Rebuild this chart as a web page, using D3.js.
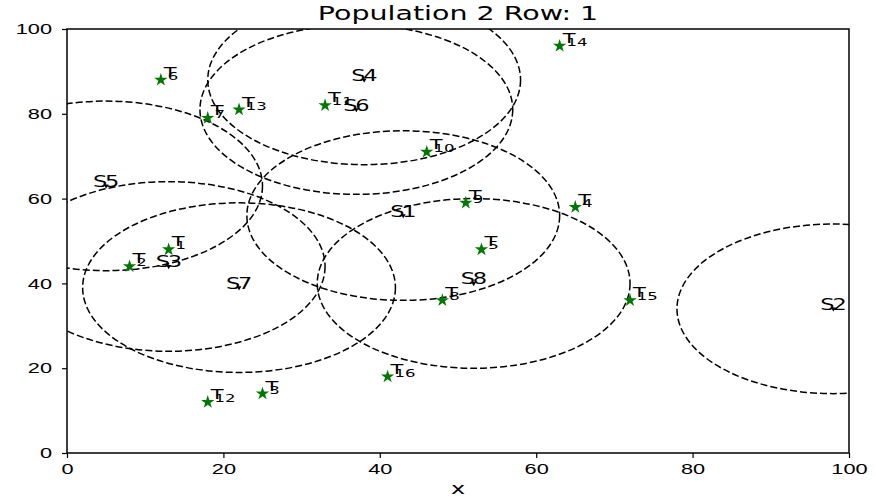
<!DOCTYPE html>
<html>
<head>
<meta charset="utf-8">
<script src="https://cdn.jsdelivr.net/npm/d3@7"></script>
<style>
    body { margin: 0; background: #fff; }
    svg { font-family: 'DejaVu Sans', sans-serif; }
    .tick text { font-size: 14.5px; fill: #000; }
    .tick line { stroke: #000; stroke-width: 1.2; }
</style>
</head>
<body>
<svg id="chart"></svg>
<script>
// target points (green stars)
const targetNames = ['1', '2', '3', '4', '5', '6', '7', '8', '9', '10', '11', '12', '13', '14', '15', '16'];
const targetX = [13, 8, 25, 65, 53, 12, 18, 48, 51, 46, 33, 18, 22, 63, 72, 41];
const targetY = [48, 44, 14, 58, 48, 88, 79, 36, 59, 71, 82, 12, 81, 96, 36, 18];

// stations and their coverage radius
const stationNames = ['1', '2', '3', '4', '5', '6', '7', '8'];
const stationX = [43, 98, 13, 38, 5, 37, 22, 52];
const stationY = [56, 34, 44, 88, 63, 81, 39, 40];
const stationRadius = [20, 20, 20, 20, 20, 20, 20, 20];

const axisTicks = [0, 20, 40, 60, 80, 100];

// the picture's text is stretched sideways
const stretch = 1.5;

const margin = { top: 29, right: 27, bottom: 45, left: 67 },
    totalW = 876, totalH = 498,
    width = totalW - margin.left - margin.right,
    height = totalH - margin.top - margin.bottom;

const svg = d3.select('#chart')
    .attr('width', totalW)
    .attr('height', totalH);

const g = svg.append('g')
    .attr('transform', 'translate(' + margin.left + ',' + margin.top + ')');

const x = d3.scaleLinear().domain([0, 100]).range([0, width]);
const y = d3.scaleLinear().domain([0, 100]).range([height, 0]);

// clip the circles to the axes area
svg.append('defs').append('clipPath')
    .attr('id', 'plotClip')
    .append('rect')
    .attr('width', width)
    .attr('height', height);

// coverage circles (ellipses in pixel space)
g.append('g')
    .attr('clip-path', 'url(#plotClip)')
    .selectAll('ellipse')
    .data(stationNames)
    .enter()
    .append('ellipse')
    .attr('cx', (d, i) => x(stationX[i]))
    .attr('cy', (d, i) => y(stationY[i]))
    .attr('rx', (d, i) => x(stationRadius[i]) - x(0))
    .attr('ry', (d, i) => y(0) - y(stationRadius[i]))
    .attr('fill', 'none')
    .attr('stroke', '#000')
    .attr('stroke-width', 1.5)
    .attr('stroke-dasharray', '7,3');

// station markers (small down triangles)
g.selectAll('.smark')
    .data(stationNames)
    .enter()
    .append('path')
    .attr('class', 'smark')
    .attr('d', d3.symbol().type(d3.symbolTriangle).size(10))
    .attr('transform', (d, i) => 'translate(' + x(stationX[i]) + ',' + y(stationY[i]) + ') rotate(180)')
    .attr('fill', '#000');

// station labels
const sLabels = g.selectAll('.slabel')
    .data(stationNames)
    .enter()
    .append('text')
    .attr('class', 'slabel')
    .attr('transform', (d, i) => 'translate(' + (x(stationX[i]) - 13) + ',' + (y(stationY[i]) + 1) + ') scale(' + stretch + ',1)')
    .attr('font-size', 15)
    .attr('fill', '#000');
sLabels.append('tspan').text('S');
sLabels.append('tspan').attr('dx', -1.5).text(d => d);

// target markers (green stars)
g.selectAll('.tmark')
    .data(targetNames)
    .enter()
    .append('path')
    .attr('class', 'tmark')
    .attr('d', d3.symbol().type(d3.symbolStar).size(55))
    .attr('transform', (d, i) => 'translate(' + x(targetX[i]) + ',' + y(targetY[i]) + ')')
    .attr('fill', '#007800');

// target labels: T with overlapping index
const tLabels = g.selectAll('.tlabel')
    .data(targetNames)
    .enter()
    .append('text')
    .attr('class', 'tlabel')
    .attr('transform', (d, i) => 'translate(' + (x(targetX[i]) + 3) + ',' + (y(targetY[i]) - 3) + ') scale(' + stretch + ',1)')
    .attr('fill', '#000');
tLabels.append('tspan').attr('font-size', 14).text('T');
tLabels.append('tspan')
    .attr('font-size', 11)
    .attr('dx', -6)
    .attr('dy', 3)
    .text(d => d);

// axes
const xAxis = g.append('g')
    .attr('transform', 'translate(0,' + height + ')')
    .call(d3.axisBottom(x).tickValues(axisTicks).tickSizeOuter(0).tickSize(5).tickPadding(6));

const yAxis = g.append('g')
    .call(d3.axisLeft(y).tickValues(axisTicks).tickSizeOuter(0).tickSize(5).tickPadding(5));

xAxis.selectAll('.tick text').attr('transform', 'scale(' + stretch + ',1)');
yAxis.selectAll('.tick text').attr('transform', 'scale(' + stretch + ',1)');
g.selectAll('.domain').remove();

// frame
g.append('rect')
    .attr('width', width)
    .attr('height', height)
    .attr('fill', 'none')
    .attr('stroke', '#000')
    .attr('stroke-width', 1.5);

// title and axis label
svg.append('text')
    .attr('transform', 'translate(' + (margin.left + width / 2) + ',20) scale(' + stretch + ',1)')
    .attr('text-anchor', 'middle')
    .attr('font-size', 19)
    .text('Population 2 Row: 1');

svg.append('text')
    .attr('transform', 'translate(' + (margin.left + width / 2) + ',494) scale(' + stretch + ',1)')
    .attr('text-anchor', 'middle')
    .attr('font-size', 16)
    .text('x');
</script>
</body>
</html>
